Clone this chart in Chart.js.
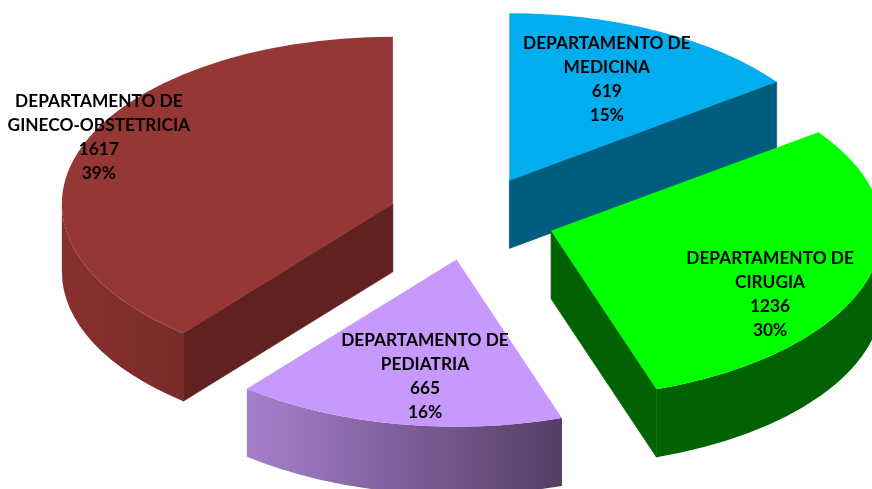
<!DOCTYPE html>
<html><head><meta charset="utf-8">
<script src="https://cdn.jsdelivr.net/npm/chart.js@4/dist/chart.umd.min.js"></script>
<style>html,body{margin:0;padding:0;background:#fff;overflow:hidden}canvas{display:block}</style>
</head><body><canvas id="c" width="872" height="489"></canvas>
<script>
const categories = ["DEPARTAMENTO DE MEDICINA","DEPARTAMENTO DE CIRUGIA","DEPARTAMENTO DE PEDIATRIA","DEPARTAMENTO DE GINECO-OBSTETRICIA"];
const labelLines = [["DEPARTAMENTO DE","MEDICINA"],["DEPARTAMENTO DE","CIRUGIA"],["DEPARTAMENTO DE","PEDIATRIA"],["DEPARTAMENTO DE","GINECO-OBSTETRICIA"]];
const values = [619,1236,665,1617];
const percents = ["15%","30%","16%","39%"];
const topColors = ["#00ADEF","#00FF00","#C899FC","#953735"];
const edgeColors = ["#005D7E","#006200","#553D66","#602120"];
const wallFrom = ["#005D7E","#006200","#A680CC","#87302F"];
const wallTo = ["#005D7E","#006200","#553D66","#7A2A2A"];
const labelShift = [[97.5,-136.5],[219,28],[-31.5,81],[-294,-102]]; // first-line centre relative to slice apex

const RADIUS=331, EXPLODE=83.5, TILT=0.505, DEPTH=68;

function apex(el){
  const mid=(el.startAngle+el.endAngle)/2;
  return {x:el.x+Math.cos(mid)*EXPLODE, y:el.y+Math.sin(mid)*EXPLODE*TILT};
}
const plugin3d = {
  id:'pie3d',
  beforeDatasetDraw(chart){
    const ctx=chart.ctx, arcs=chart.getDatasetMeta(0).data;
    arcs.forEach((el,i)=>{
      const a=apex(el), R=el.outerRadius, ry=R*TILT;
      const p=t=>({x:a.x+Math.cos(t)*R,y:a.y+Math.sin(t)*ry});
      const wall=t=>{const e=p(t);
        ctx.beginPath();ctx.moveTo(a.x,a.y);ctx.lineTo(e.x,e.y);ctx.lineTo(e.x,e.y+DEPTH);ctx.lineTo(a.x,a.y+DEPTH);ctx.closePath();
        ctx.fillStyle=edgeColors[i];ctx.fill();
        ctx.strokeStyle=edgeColors[i];ctx.lineWidth=0.7;ctx.stroke();};
      const t0=Math.max(el.startAngle,0), t1=Math.min(el.endAngle,Math.PI);
      if(t1>t0){
        const x0=Math.min(p(t0).x,p(t1).x), x1=Math.max(p(t0).x,p(t1).x);
        const left=(t0<=Math.PI&&t1>=Math.PI)?a.x-R:x0, right=(t0<=0)?a.x+R:x1;
        const g=ctx.createLinearGradient(left,0,right,0);
        g.addColorStop(0,wallFrom[i]);g.addColorStop(1,wallTo[i]);
        ctx.beginPath();
        ctx.ellipse(a.x,a.y,R,ry,0,t0,t1,false);
        ctx.ellipse(a.x,a.y+DEPTH,R,ry,0,t1,t0,true);
        ctx.closePath();ctx.fillStyle=g;ctx.fill();
      }
      if(Math.cos(el.endAngle)>1e-6) wall(el.endAngle);
      if(-Math.cos(el.startAngle)>1e-6) wall(el.startAngle);
    });
    arcs.forEach(el=>{
      const a=apex(el);
      ctx.save();ctx.translate(a.x,a.y);ctx.scale(1,TILT);ctx.translate(-el.x,-el.y);
      el.draw(ctx);ctx.restore();
    });
    return false;
  },
  afterDatasetsDraw(chart){
    const ctx=chart.ctx, arcs=chart.getDatasetMeta(0).data;
    ctx.save();ctx.fillStyle="#000";ctx.textAlign="center";ctx.textBaseline="middle";
    ctx.font="bold 17.3px Lato";
    arcs.forEach((el,i)=>{
      const a=apex(el), x=a.x+labelShift[i][0]; let y=a.y+labelShift[i][1];
      [...labelLines[i],String(values[i]),percents[i]].forEach(t=>{ctx.fillText(t,x,y);y+=24;});
    });
    ctx.restore();
  }
};
new Chart(document.getElementById('c'),{
  type:'pie',
  data:{labels:categories,datasets:[{data:values,backgroundColor:topColors,borderWidth:0,clip:false}]},
  options:{responsive:false,animation:false,radius:RADIUS,
    layout:{padding:{left:71,bottom:53}},
    plugins:{legend:{display:false},tooltip:{enabled:false}}},
  plugins:[plugin3d]
});
</script></body></html>
